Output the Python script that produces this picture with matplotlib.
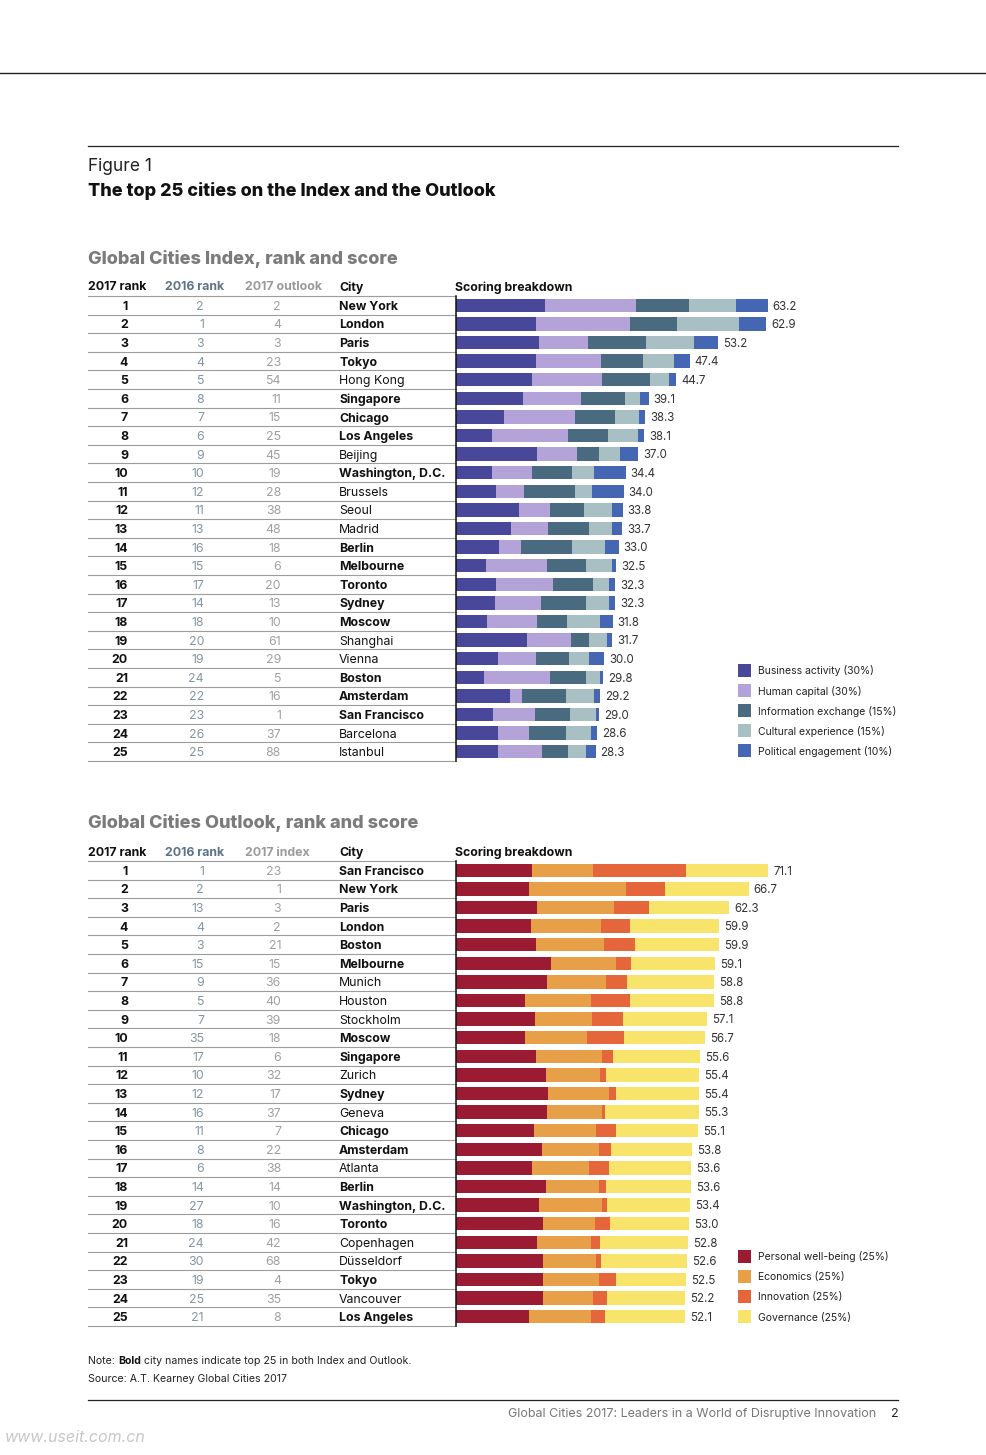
import numpy as np
import matplotlib
matplotlib.use("Agg")
import matplotlib.pyplot as plt
from matplotlib.patches import Rectangle

plt.rcParams['font.family'] = ['Inter', 'DejaVu Sans']

## Index data ##
index_cities = ["New York", "London", "Paris", "Tokyo", "Hong Kong", "Singapore", "Chicago",
                "Los Angeles", "Beijing", "Washington, D.C.", "Brussels", "Seoul", "Madrid",
                "Berlin", "Melbourne", "Toronto", "Sydney", "Moscow", "Shanghai", "Vienna",
                "Boston", "Amsterdam", "San Francisco", "Barcelona", "Istanbul"]
index_rank_2016 = [2, 1, 3, 4, 5, 8, 7, 6, 9, 10, 12, 11, 13, 16, 15, 17, 14, 18, 20, 19, 24, 22, 23, 26, 25]
index_outlook_2017 = [2, 4, 3, 23, 54, 11, 15, 25, 45, 19, 28, 38, 48, 18, 6, 20, 13, 10, 61, 29, 5, 16, 1, 37, 88]
index_scores = [63.2, 62.9, 53.2, 47.4, 44.7, 39.1, 38.3, 38.1, 37.0, 34.4, 34.0, 33.8, 33.7,
                33.0, 32.5, 32.3, 32.3, 31.8, 31.7, 30.0, 29.8, 29.2, 29.0, 28.6, 28.3]
business = [18.05, 16.23, 16.84, 16.23, 15.5, 13.5, 9.7, 7.3, 16.4, 7.3, 8.1, 12.8, 11.2,
            8.75, 6.1, 8.1, 7.9, 6.25, 14.45, 8.5, 5.68, 10.95, 7.55, 8.52, 8.55]
human = [18.46, 19.07, 9.94, 13.18, 14.2, 11.8, 14.5, 15.42, 8.1, 8.1, 5.65, 6.3, 7.4,
         4.4, 12.35, 11.6, 9.35, 10.25, 8.95, 7.7, 13.37, 2.45, 8.5, 6.22, 8.95]
info_exchange = [10.75, 9.53, 11.76, 8.59, 9.74, 8.92, 7.98, 8.11, 4.46, 8.1, 10.3, 6.9, 8.3,
                 10.3, 7.9, 8.1, 9.15, 6.1, 3.65, 6.7, 7.3, 8.95, 7.0, 7.57, 5.3]
cultural = [9.53, 12.58, 9.74, 6.22, 3.72, 3.04, 4.87, 6.1, 4.4, 4.5, 3.45, 5.7, 4.7,
            6.85, 5.27, 3.28, 4.68, 6.7, 3.65, 4.06, 2.84, 5.7, 5.3, 5.07, 3.65]
political = [6.41, 5.49, 4.92, 3.18, 1.54, 1.84, 1.25, 1.17, 3.64, 6.4, 6.5, 2.1, 2.1,
             2.7, 0.88, 1.22, 1.22, 2.5, 1.0, 3.04, 0.61, 1.15, 0.65, 1.22, 1.85]
index_labels = ["Business activity (30%)", "Human capital (30%)", "Information exchange (15%)",
                "Cultural experience (15%)", "Political engagement (10%)"]
index_colors = ["#48479a", "#b3a3d8", "#4a6a80", "#a8c0c3", "#4566b3"]

## Outlook data ##
outlook_cities = ["San Francisco", "New York", "Paris", "London", "Boston", "Melbourne", "Munich",
                  "Houston", "Stockholm", "Moscow", "Singapore", "Zurich", "Sydney", "Geneva",
                  "Chicago", "Amsterdam", "Atlanta", "Berlin", "Washington, D.C.", "Toronto",
                  "Copenhagen", "Düsseldorf", "Tokyo", "Vancouver", "Los Angeles"]
outlook_rank_2016 = [1, 2, 13, 4, 3, 15, 9, 5, 7, 35, 17, 10, 12, 16, 11, 8, 6, 14, 27, 18, 24, 30, 19, 25, 21]
outlook_index_2017 = [23, 1, 3, 2, 21, 15, 36, 40, 39, 18, 6, 32, 17, 37, 7, 22, 38, 14, 10, 16, 42, 68, 4, 35, 8]
outlook_scores = [71.1, 66.7, 62.3, 59.9, 59.9, 59.1, 58.8, 58.8, 57.1, 56.7, 55.6, 55.4, 55.4,
                  55.3, 55.1, 53.8, 53.6, 53.6, 53.4, 53.0, 52.8, 52.6, 52.5, 52.2, 52.1]
wellbeing = [17.4, 16.7, 18.35, 17.15, 18.3, 21.75, 20.7, 15.75, 17.9, 15.75, 18.3, 20.4, 21.05,
             20.75, 17.85, 19.65, 17.2, 20.4, 18.95, 19.85, 18.55, 19.9, 19.9, 19.9, 16.7]
economics = [13.9, 22.05, 17.6, 15.9, 15.45, 14.6, 13.5, 15.0, 13.0, 14.1, 15.0, 12.35, 13.85,
             12.4, 13.95, 12.95, 13.0, 12.1, 14.3, 11.8, 12.3, 12.1, 12.75, 11.4, 14.1]
innovation = [21.15, 8.85, 8.0, 6.6, 7.05, 3.45, 4.75, 8.85, 7.1, 8.4, 2.5, 1.4, 1.45,
              0.9, 4.6, 2.8, 4.65, 1.6, 1.15, 3.4, 1.85, 1.0, 3.85, 3.2, 3.2]
governance = [18.65, 19.1, 18.35, 20.25, 19.1, 19.3, 19.85, 19.2, 19.1, 18.45, 19.8, 21.25, 19.05,
              21.25, 18.7, 18.4, 18.75, 19.5, 19.0, 17.95, 20.1, 19.6, 16.0, 17.7, 18.1]
outlook_labels = ["Personal well-being (25%)", "Economics (25%)", "Innovation (25%)", "Governance (25%)"]
outlook_colors = ["#9a1b32", "#e8a048", "#e4663a", "#f8e36b"]

W, H = 987, 1455
fig = plt.figure(figsize=(W / 100, H / 100), dpi=100)
bg = fig.add_axes([0, 0, 1, 1])
bg.set_xlim(0, W)
bg.set_ylim(H, 0)
bg.axis('off')

ROWH = 18.6
FS = 8.9
DY = 1.5  # nudge text down a little to sit like the reference

# page furniture
bg.plot([0, W], [73, 73], color='#222222', lw=1.0)
bg.plot([88, 898], [146, 146], color='#222222', lw=0.9)
bg.text(88, 165 + DY, "Figure 1", fontsize=12.5, color='#222222', va='center')
bg.text(88, 190 + DY, "The top 25 cities on the Index and the Outlook", fontsize=13,
        fontweight='heavy', color='#111111', va='center')


def draw_table(top, title, third_header, cities, rank16, third, other_rank):
    bg.text(88, top - 39 + DY, title, fontsize=13, fontweight='heavy', color='#7b7b7b', va='center')
    hy = top - 10 + DY
    bg.text(88, hy, "2017 rank", fontsize=FS, fontweight='bold', color='#111111', va='center')
    bg.text(165, hy, "2016 rank", fontsize=FS, fontweight='bold', color='#5b7488', va='center')
    bg.text(245, hy, third_header, fontsize=FS, fontweight='bold', color='#9a9a9a', va='center')
    bg.text(339, hy, "City", fontsize=FS, fontweight='bold', color='#111111', va='center')
    bg.text(455, hy, "Scoring breakdown", fontsize=FS, fontweight='bold', color='#111111', va='center')
    for i in range(len(cities) + 1):
        y = top + i * ROWH
        bg.plot([88, 456], [y, y], color='#9c9c9c', lw=0.8)
    for i, city in enumerate(cities):
        y = top + (i + 0.5) * ROWH + DY
        bg.text(128, y, str(i + 1), fontsize=FS, fontweight='bold', color='#111111', ha='right', va='center')
        bg.text(204, y, str(rank16[i]), fontsize=FS, color='#8595a2', ha='right', va='center')
        bg.text(281, y, str(third[i]), fontsize=FS, color='#a0a0a0', ha='right', va='center')
        bold = other_rank[i] <= 25
        bg.text(339, y, city, fontsize=FS, fontweight='bold' if bold else 'normal',
                color='#111111', va='center')


def draw_bars(top, xmax, px_per_unit, series, colors, scores):
    n = len(scores)
    ax = fig.add_axes([456 / W, 1 - (top + n * ROWH) / H, xmax * px_per_unit / W, n * ROWH / H])
    ax.set_xlim(0, xmax)
    ax.set_ylim(n - 0.5, -0.5)
    ax.patch.set_alpha(0)
    y = np.arange(n)
    left = np.zeros(n)
    for vals, col in zip(series, colors):
        ax.barh(y, vals, left=left, height=0.72, color=col, edgecolor='none')
        left = left + np.array(vals)
    for i, s in enumerate(scores):
        ax.annotate(f"{s:.1f}", xy=(left[i], i), xytext=(3.6, -1.0), textcoords='offset points',
                    fontsize=8.3, color='#333333', va='center', ha='left')
    for sp in ['top', 'right', 'bottom']:
        ax.spines[sp].set_visible(False)
    ax.spines['left'].set_color('#111111')
    ax.spines['left'].set_linewidth(1.1)
    ax.set_xticks([])
    ax.set_yticks([])
    return ax


def draw_legend(y0, labels, colors):
    for k, (lab, col) in enumerate(zip(labels, colors)):
        y = y0 + k * 20.2
        bg.add_patch(Rectangle((738, y - 6.5), 13, 13, color=col, lw=0))
        bg.text(758, y + 1, lab, fontsize=7.5, color='#222222', va='center')


# Index section
top1 = 296
draw_table(top1, "Global Cities Index, rank and score", "2017 outlook",
           index_cities, index_rank_2016, index_outlook_2017, index_outlook_2017)
draw_bars(top1, 70, 4.93, [business, human, info_exchange, cultural, political],
          index_colors, index_scores)
draw_legend(670, index_labels, index_colors)

# Outlook section
top2 = 861
draw_table(top2, "Global Cities Outlook, rank and score", "2017 index",
           outlook_cities, outlook_rank_2016, outlook_index_2017, outlook_index_2017)
draw_bars(top2, 80, 4.39, [wellbeing, economics, innovation, governance],
          outlook_colors, outlook_scores)
draw_legend(1256, outlook_labels, outlook_colors)

# notes
NFS = 7.6
t1 = bg.text(88, 1361, "Note: ", fontsize=NFS, color='#222222', va='center')
t2 = bg.annotate("Bold", xy=(1, 0), xycoords=t1, fontsize=NFS, fontweight='bold',
                 color='#111111', va='bottom', ha='left')
bg.annotate(" city names indicate top 25 in both Index and Outlook.", xy=(1, 0), xycoords=t2,
            fontsize=NFS, color='#222222', va='bottom', ha='left')
bg.text(88, 1379, "Source: A.T. Kearney Global Cities 2017", fontsize=NFS, color='#222222', va='center')

bg.plot([88, 898], [1400, 1400], color='#222222', lw=0.9)
bg.text(876, 1414, "Global Cities 2017: Leaders in a World of Disruptive Innovation",
        fontsize=9, color='#777777', ha='right', va='center')
bg.text(895, 1414, "2", fontsize=9, color='#222222', ha='center', va='center')
bg.text(5, 1438, "www.useit.com.cn", fontsize=11.5, color='#c8c8c8', style='italic', va='center')

fig.savefig("out.png", dpi=100)
